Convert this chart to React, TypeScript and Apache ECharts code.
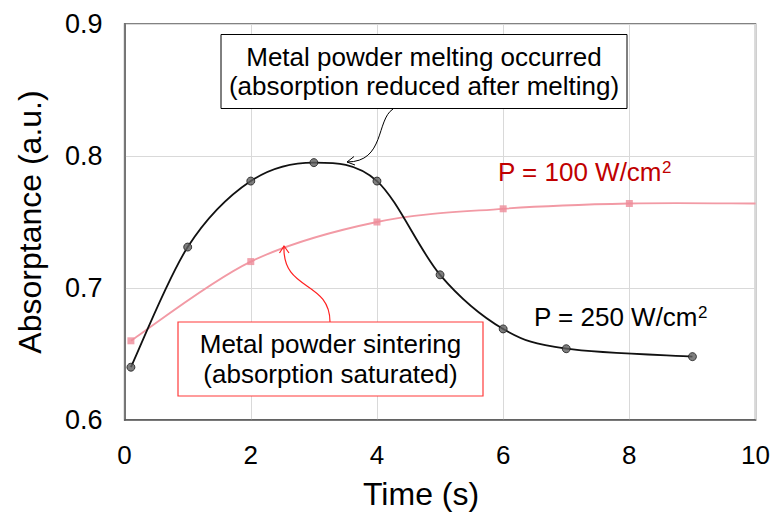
import React, { useEffect, useRef } from "react";
import * as echarts from "echarts";

const times250 = [0.1, 1, 2, 3, 4, 5, 6, 7, 9];
const values250 = [0.64, 0.731, 0.781, 0.795, 0.781, 0.71, 0.669, 0.654, 0.648];
const times100 = [0.1, 2, 4, 6, 8, 10];
const values100 = [0.66, 0.72, 0.75, 0.76, 0.764, 0.764];
const markers100 = [true, true, true, true, true, false];
const xTicks = [0, 2, 4, 6, 8, 10];
const yTicks = [0.6, 0.7, 0.8, 0.9];
const labelTop = "Metal powder melting occurred\n(absorption reduced after melting)";
const labelBottom = "Metal powder sintering\n(absorption saturated)";
const label100 = "P = 100 W/cm{sup|2}";
const label250 = "P = 250 W/cm{sup|2}";

const FONT = "Liberation Sans, Arial, sans-serif";

function smoothPath(pts: number[][]): string {
  if (pts.length === 0) return "";
  let d = `M${pts[0][0]},${pts[0][1]}`;
  for (let i = 0; i < pts.length - 1; i++) {
    const p0 = pts[i - 1] || pts[i];
    const p1 = pts[i];
    const p2 = pts[i + 1];
    const p3 = pts[i + 2] || pts[i + 1];
    const c1x = p1[0] + (p2[0] - p0[0]) / 6;
    const c1y = p1[1] + (p2[1] - p0[1]) / 6;
    const c2x = p2[0] - (p3[0] - p1[0]) / 6;
    const c2y = p2[1] - (p3[1] - p1[1]) / 6;
    d += ` C${c1x},${c1y} ${c2x},${c2y} ${p2[0]},${p2[1]}`;
  }
  return d;
}

function curveSeries(data: number[][], color: string, width: number, z: number) {
  return {
    type: "custom",
    data,
    encode: { x: 0, y: 1 },
    z,
    silent: true,
    renderItem: (params: any, api: any) => {
      if (params.dataIndex !== 0) return null;
      const pts = data.map((p) => api.coord(p));
      return {
        type: "path",
        shape: { pathData: smoothPath(pts) },
        style: { stroke: color, lineWidth: width, fill: "none" },
      };
    },
  };
}

export default function App() {
  const ref = useRef<HTMLDivElement>(null);
  useEffect(() => {
    if (!ref.current) return;
    const chart = echarts.init(ref.current, null, { renderer: "svg" });
    const s250 = times250.map((t, i) => [t, values250[i]]);
    const s100 = times100.map((t, i) => [t, values100[i]]);
    const m100 = s100.filter((_, i) => markers100[i]);
    const supStyle = { fontSize: 17, verticalAlign: "top", lineHeight: 26, fontFamily: FONT };
    chart.setOption({
      animation: false,
      backgroundColor: "#ffffff",
      textStyle: { fontFamily: FONT },
      grid: {
        left: 124.6,
        right: 13,
        top: 24,
        bottom: 94,
        show: true,
        borderColor: "#595959",
        borderWidth: 1.5,
        backgroundColor: "transparent",
      },
      xAxis: {
        type: "value",
        min: xTicks[0],
        max: xTicks[xTicks.length - 1],
        interval: 2,
        name: "Time (s)",
        nameLocation: "middle",
        nameGap: 58,
        nameTextStyle: { fontSize: 32, color: "#000", fontFamily: FONT, padding: [0, 38, 0, 0] },
        axisLine: { show: true, lineStyle: { color: "#595959", width: 1.5 } },
        axisTick: { show: false },
        axisLabel: { fontSize: 26, color: "#000", margin: 22, fontFamily: FONT },
        splitLine: { show: true, lineStyle: { color: "#d9d9d9", width: 1 } },
      },
      yAxis: {
        type: "value",
        min: yTicks[0],
        max: yTicks[yTicks.length - 1],
        interval: 0.1,
        name: "Absorptance (a.u.)",
        nameLocation: "middle",
        nameGap: 79,
        nameRotate: 90,
        nameTextStyle: { fontSize: 32, color: "#000", fontFamily: FONT },
        axisLine: { show: true, lineStyle: { color: "#595959", width: 1.5 } },
        axisTick: { show: false },
        axisLabel: {
          fontSize: 27,
          color: "#000",
          margin: 22,
          fontFamily: FONT,
          formatter: (v: number) => v.toFixed(1),
        },
        splitLine: { show: true, lineStyle: { color: "#d9d9d9", width: 1 } },
      },
      series: [
        curveSeries(s100, "#f29aa5", 1.8, 2),
        {
          type: "scatter",
          name: "P100",
          data: m100,
          symbol: "rect",
          symbolSize: 7,
          itemStyle: { color: "#ee8b99", borderWidth: 0 },
          z: 3,
        },
        curveSeries(s250, "#111111", 1.8, 4),
        {
          type: "scatter",
          name: "P250",
          data: s250,
          symbol: "circle",
          symbolSize: 8,
          itemStyle: { color: "#5f5f5f", borderColor: "#1a1a1a", borderWidth: 1 },
          z: 5,
        },
      ],
      graphic: [
        {
          type: "rect",
          shape: { x: 221, y: 34.5, width: 406, height: 74 },
          style: { fill: "#ffffff", stroke: "#000000", lineWidth: 1 },
          z: 10,
        },
        {
          type: "text",
          x: 424,
          y: 71.5,
          style: {
            text: labelTop,
            fontSize: 26,
            lineHeight: 29,
            fill: "#000",
            fontFamily: FONT,
            align: "center",
            verticalAlign: "middle",
          },
          z: 11,
        },
        {
          type: "bezierCurve",
          shape: { x1: 393, y1: 109, cpx1: 376, cpy1: 120, cpx2: 385, cpy2: 162, x2: 347, y2: 162 },
          style: { stroke: "#000", lineWidth: 1, fill: "none" },
          z: 9,
        },
        {
          type: "polyline",
          shape: { points: [[354, 156.5], [347, 162], [355, 165]] },
          style: { stroke: "#000", lineWidth: 1, fill: "none" },
          z: 9,
        },
        {
          type: "rect",
          shape: { x: 178, y: 322, width: 305, height: 74 },
          style: { fill: "#ffffff", stroke: "#ff3b3b", lineWidth: 1.2 },
          z: 10,
        },
        {
          type: "text",
          x: 330.5,
          y: 359,
          style: {
            text: labelBottom,
            fontSize: 26,
            lineHeight: 30,
            fill: "#000",
            fontFamily: FONT,
            align: "center",
            verticalAlign: "middle",
          },
          z: 11,
        },
        {
          type: "bezierCurve",
          shape: { x1: 330, y1: 322, cpx1: 330, cpy1: 280, cpx2: 282, cpy2: 292, x2: 284, y2: 246 },
          style: { stroke: "#ff2020", lineWidth: 1.2, fill: "none" },
          z: 9,
        },
        {
          type: "polyline",
          shape: { points: [[279.5, 253], [284, 246], [289, 253]] },
          style: { stroke: "#ff2020", lineWidth: 1.2, fill: "none" },
          z: 9,
        },
        {
          type: "text",
          x: 498,
          y: 172,
          style: {
            text: label100,
            fontSize: 26,
            lineHeight: 26,
            fill: "#c00000",
            fontFamily: FONT,
            align: "left",
            verticalAlign: "middle",
            rich: { sup: { ...supStyle, fill: "#c00000" } },
          },
          z: 11,
        },
        {
          type: "text",
          x: 534,
          y: 317,
          style: {
            text: label250,
            fontSize: 26,
            lineHeight: 26,
            fill: "#000",
            fontFamily: FONT,
            align: "left",
            verticalAlign: "middle",
            rich: { sup: { ...supStyle, fill: "#000" } },
          },
          z: 11,
        },
      ],
    });
    return () => chart.dispose();
  }, []);
  return (
    <div
      ref={ref}
      style={{ position: "fixed", left: 0, top: 0, width: 773, height: 515 }}
    />
  );
}
